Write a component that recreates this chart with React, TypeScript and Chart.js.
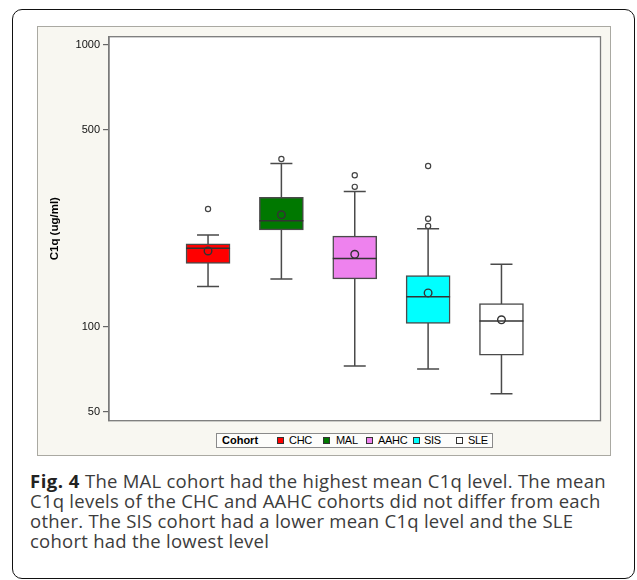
import React, { useEffect, useRef } from 'react';
import { Chart, registerables } from 'chart.js';

Chart.register(...registerables);

// ---- data ----
const categories = ['CHC', 'MAL', 'AAHC', 'SIS', 'SLE'];
const q1Values = [168, 221, 148, 103, 79.4];
const q3Values = [197, 288, 210, 152, 121];
const medianValues = [190, 238, 175, 128, 105];
const meanValues = [186, 250, 181, 132, 106];
const whiskerLowValues = [139, 148, 72.7, 71, 58];
const whiskerHighValues = [212, 380, 302, 223, 167];
const outlierValues: number[][] = [[262], [394], [314, 345], [228, 242, 372], []];
const yTickValues = [50, 100, 500, 1000];

const boxColors = ['#ff0000', '#007800', '#ee82ee', '#00ffff', '#ffffff'];
const FONT = '"Liberation Sans", Arial, Helvetica, sans-serif';

export default function App() {
  const ref = useRef<HTMLCanvasElement>(null);

  useEffect(() => {
    const canvas = ref.current;
    if (!canvas) return;

    const boxParts = {
      id: 'boxParts',
      beforeDraw(chart: any) {
        const { ctx, chartArea: a } = chart;
        ctx.save();
        ctx.fillStyle = '#ffffff';
        ctx.fillRect(a.left, a.top, a.right - a.left, a.bottom - a.top);
        ctx.restore();
      },
      beforeDatasetsDraw(chart: any) {
        const { ctx } = chart;
        const xs = chart.scales.x;
        const ys = chart.scales.y;
        ctx.save();
        ctx.strokeStyle = '#4a4a4a';
        ctx.lineWidth = 1.5;
        categories.forEach((_, i) => {
          const px = xs.getPixelForValue(i + 1);
          const half = xs.getPixelForValue(i + 1.15) - px;
          const yLo = ys.getPixelForValue(whiskerLowValues[i]);
          const yHi = ys.getPixelForValue(whiskerHighValues[i]);
          ctx.beginPath();
          ctx.moveTo(px, yHi);
          ctx.lineTo(px, yLo);
          ctx.moveTo(px - half, yHi);
          ctx.lineTo(px + half, yHi);
          ctx.moveTo(px - half, yLo);
          ctx.lineTo(px + half, yLo);
          ctx.stroke();
        });
        ctx.restore();
      },
      afterDatasetDraw(chart: any, args: any) {
        if (args.index !== 0) return;
        const { ctx } = chart;
        const meta = chart.getDatasetMeta(0);
        const ys = chart.scales.y;
        ctx.save();
        ctx.strokeStyle = '#333333';
        ctx.lineWidth = 1.5;
        meta.data.forEach((bar: any, i: number) => {
          const { x, width } = bar.getProps(['x', 'width'], true);
          const py = ys.getPixelForValue(medianValues[i]);
          ctx.beginPath();
          ctx.moveTo(x - width / 2, py);
          ctx.lineTo(x + width / 2, py);
          ctx.stroke();
        });
        ctx.restore();
      },
      afterDraw(chart: any) {
        const { ctx, chartArea: a } = chart;
        ctx.save();
        ctx.strokeStyle = '#7a7a7a';
        ctx.lineWidth = 1.3;
        ctx.strokeRect(a.left, a.top, a.right - a.left, a.bottom - a.top);
        ctx.restore();
      },
    };

    const outlierPoints: { x: number; y: number }[] = [];
    outlierValues.forEach((arr, i) => arr.forEach((v) => outlierPoints.push({ x: i + 1, y: v })));

    const chart = new Chart(canvas, {
      type: 'bar',
      data: {
        datasets: [
          {
            type: 'bar',
            label: 'box',
            data: categories.map((_, i) => ({ x: i + 1, y: [q1Values[i], q3Values[i]] })) as any,
            backgroundColor: boxColors,
            borderColor: '#4a4a4a',
            borderWidth: 1.5,
            borderSkipped: false,
            barThickness: 44,
            order: 3,
          } as any,
          {
            type: 'scatter',
            label: 'mean',
            data: categories.map((_, i) => ({ x: i + 1, y: meanValues[i] })),
            pointStyle: 'circle',
            pointRadius: 3.8,
            backgroundColor: 'rgba(0,0,0,0)',
            borderColor: '#333333',
            borderWidth: 1.4,
            order: 1,
          } as any,
          {
            type: 'scatter',
            label: 'outliers',
            data: outlierPoints,
            pointStyle: 'circle',
            pointRadius: 2.6,
            backgroundColor: 'rgba(0,0,0,0)',
            borderColor: '#444444',
            borderWidth: 1.2,
            order: 2,
          } as any,
        ],
      },
      options: {
        animation: false,
        responsive: false,
        events: [],
        layout: { padding: { left: 0, top: 10.7, right: 10.5, bottom: 35.3 } },
        plugins: {
          legend: { display: false },
          tooltip: { enabled: false },
        },
        scales: {
          x: {
            type: 'linear',
            min: -0.35,
            max: 6.35,
            offset: false,
            display: false,
          },
          y: {
            type: 'logarithmic',
            position: 'left',
            min: 46.5,
            max: 1070,
            afterFit: (s: any) => {
              s.width = 72;
            },
            afterBuildTicks: (s: any) => {
              s.ticks = yTickValues.map((v) => ({ value: v }));
            },
            ticks: {
              callback: (v: any) => String(v),
              color: '#111',
              padding: 3,
              font: { family: FONT, size: 11 },
            },
            grid: {
              drawOnChartArea: false,
              drawTicks: true,
              tickLength: 6,
              color: '#666',
              lineWidth: 1.2,
            },
            border: { display: true, color: '#7a7a7a', width: 1.3 },
            title: {
              display: true,
              text: 'C1q (ug/ml)',
              color: '#000',
              font: { family: FONT, size: 11.5, weight: 'bold' },
              padding: { top: 11, bottom: 0 },
            },
          },
        },
      } as any,
      plugins: [boxParts],
    });
    return () => chart.destroy();
  }, []);

  const legendItems = [
    { sw: 60, tx: 72 },
    { sw: 106, tx: 119 },
    { sw: 149, tx: 161 },
    { sw: 196, tx: 207 },
    { sw: 239, tx: 251 },
  ];

  return (
    <div style={{ position: 'absolute', left: 0, top: 0, width: 637, height: 580, background: '#fff', overflow: 'hidden' }}>
      <div
        style={{
          position: 'absolute', left: 12, top: 9, width: 623, height: 570,
          border: '1.5px solid #111', borderRadius: 10, boxSizing: 'border-box',
        }}
      />
      <div
        style={{
          position: 'absolute', left: 37, top: 26, width: 574, height: 430,
          background: '#f8f7f1', border: '1.5px solid #aaa9a2', boxSizing: 'border-box',
        }}
      />
      <canvas ref={ref} width={574} height={430} style={{ position: 'absolute', left: 37, top: 26 }} />
      <div
        style={{
          position: 'absolute', left: 216, top: 433, width: 277, height: 15,
          border: '1px solid #8a8a8a', background: '#fdfdfb', boxSizing: 'border-box',
          fontFamily: FONT, fontSize: 11, lineHeight: '13px', color: '#000',
        }}
      >
        <span style={{ position: 'absolute', left: 5, top: 0, fontWeight: 'bold' }}>Cohort</span>
        {categories.map((c, i) => (
          <React.Fragment key={c}>
            <span
              style={{
                position: 'absolute', left: legendItems[i].sw, top: 2.5, width: 7, height: 7,
                background: boxColors[i], border: '1px solid #333', boxSizing: 'border-box',
              }}
            />
            <span style={{ position: 'absolute', left: legendItems[i].tx, top: 0, letterSpacing: '-0.3px' }}>{c}</span>
          </React.Fragment>
        ))}
      </div>
      <div
        style={{
          position: 'absolute', left: 30, top: 470.5, whiteSpace: 'nowrap',
          fontFamily: '"Open Sans", "Noto Sans", sans-serif', fontSize: 18.5, letterSpacing: '0.25px',
          lineHeight: '20.3px', color: '#3c3c3c',
        }}
      >
        <b style={{ color: '#222', letterSpacing: '0.5px' }}>Fig. 4</b> The MAL cohort had the highest mean C1q level. The mean
        <br />
        C1q levels of the CHC and AAHC cohorts did not differ from each
        <br />
        other. The SIS cohort had a lower mean C1q level and the SLE
        <br />
        cohort had the lowest level
      </div>
    </div>
  );
}
